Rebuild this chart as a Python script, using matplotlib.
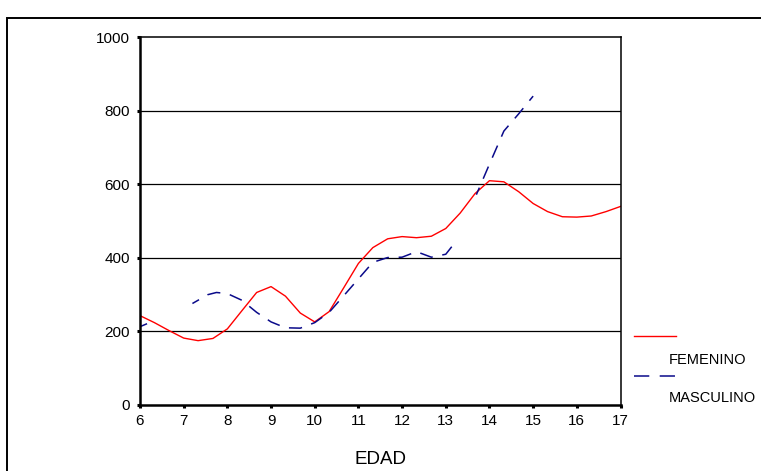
import numpy as np
import matplotlib
matplotlib.use("Agg")
import matplotlib.pyplot as plt
from matplotlib.lines import Line2D
from matplotlib.patches import Rectangle

plt.rcParams['font.family'] = ['Liberation Sans', 'DejaVu Sans']
plt.rcParams['lines.scale_dashes'] = False

# ---- data ----
ages_f = [6.0, 6.33, 6.67, 7.0, 7.33, 7.67, 8.0, 8.33, 8.67, 9.0, 9.33, 9.67,
          10.0, 10.33, 10.67, 11.0, 11.33, 11.67, 12.0, 12.33, 12.67, 13.0,
          13.33, 13.67, 14.0, 14.33, 14.67, 15.0, 15.33, 15.67, 16.0, 16.33,
          16.67, 17.0]
femenino = [243, 224, 202, 182, 175, 181, 207, 256, 306, 322, 296, 250,
            226, 254, 320, 385, 428, 452, 458, 455, 459, 480,
            522, 575, 610, 607, 580, 548, 526, 512, 511, 514,
            526, 540]

ages_m = [6.0, 6.3, 6.65, 7.2, 7.55, 7.75, 8.0, 8.33, 8.67, 9.0, 9.33, 9.67,
          10.0, 10.33, 10.67, 11.0, 11.33, 11.67, 12.0, 12.33, 12.67, 13.0,
          13.2, 13.45, 13.7, 14.0, 14.33, 14.67, 15.0]
masculino = [213, 228, np.nan, 276, 300, 306, 303, 285, 252, 226, 210, 209,
             224, 252, 298, 343, 388, 401, 402, 417, 402, 410,
             440, np.nan, 572, 655, 745, 792, 840]

x_ticks = [6, 7, 8, 9, 10, 11, 12, 13, 14, 15, 16, 17]
y_ticks = [0, 200, 400, 600, 800, 1000]
series_labels = ['FEMENINO', 'MASCULINO']
x_label = 'EDAD'

# ---- figure ----
W, H = 761, 471
fig = plt.figure(figsize=(W / 100, H / 100), dpi=100)
fig.patch.set_facecolor('white')

# outer frame
fig.add_artist(Rectangle((7 / W, -0.05), 1.2, 1 - 18 / H + 0.05,
                         transform=fig.transFigure, fill=False,
                         edgecolor='black', linewidth=1.4))

ax = fig.add_axes([140 / W, 1 - 405 / H, (620.5 - 140) / W, (405 - 37.3) / H])

red = '#ff0000'
navy = '#0a0a8a'
ax.plot(ages_f, femenino, color=red, linewidth=1.0)
ax.plot(ages_m, masculino, color=navy, linewidth=1.1,
        linestyle=(4.0, (9.5, 7.0)))

ax.set_xlim(6, 17)
ax.set_ylim(0, 1000)
ax.set_xticks(x_ticks)
ax.set_yticks(y_ticks)
ax.set_xticklabels([str(t) for t in x_ticks], fontsize=11)
ax.set_yticklabels([str(t) for t in y_ticks], fontsize=11)
ax.tick_params(direction='out', length=2.2, width=2.2, pad=5, colors='black')
ax.tick_params(axis='x', pad=4)

for y in y_ticks[1:-1]:
    ax.axhline(y, color='black', linewidth=0.9, zorder=0)

for side in ['left', 'bottom']:
    ax.spines[side].set_linewidth(1.8)
for side in ['top', 'right']:
    ax.spines[side].set_linewidth(1.1)

ax.set_xlabel(x_label, fontsize=13.5)
ax.xaxis.set_label_coords(0.5, -(459 - 405) / (405 - 37.3))
ax.xaxis.label.set_va('center')

# legend (drawn manually to mimic original layout)
leg_x0, leg_x1 = 634 / W, 676 / W
fig.add_artist(Line2D([leg_x0, leg_x1], [1 - 336 / H] * 2, color=red,
                      linewidth=1.0, transform=fig.transFigure))
fig.text(669 / W, 1 - 360 / H, series_labels[0], fontsize=10.5,
         va='center', ha='left')
fig.add_artist(Line2D([leg_x0, leg_x1], [1 - 376 / H] * 2, color=navy,
                      linewidth=1.1, dashes=(11, 7.5),
                      transform=fig.transFigure))
fig.text(669 / W, 1 - 398 / H, series_labels[1], fontsize=10.5,
         va='center', ha='left')

fig.savefig('out.png', dpi=100)
